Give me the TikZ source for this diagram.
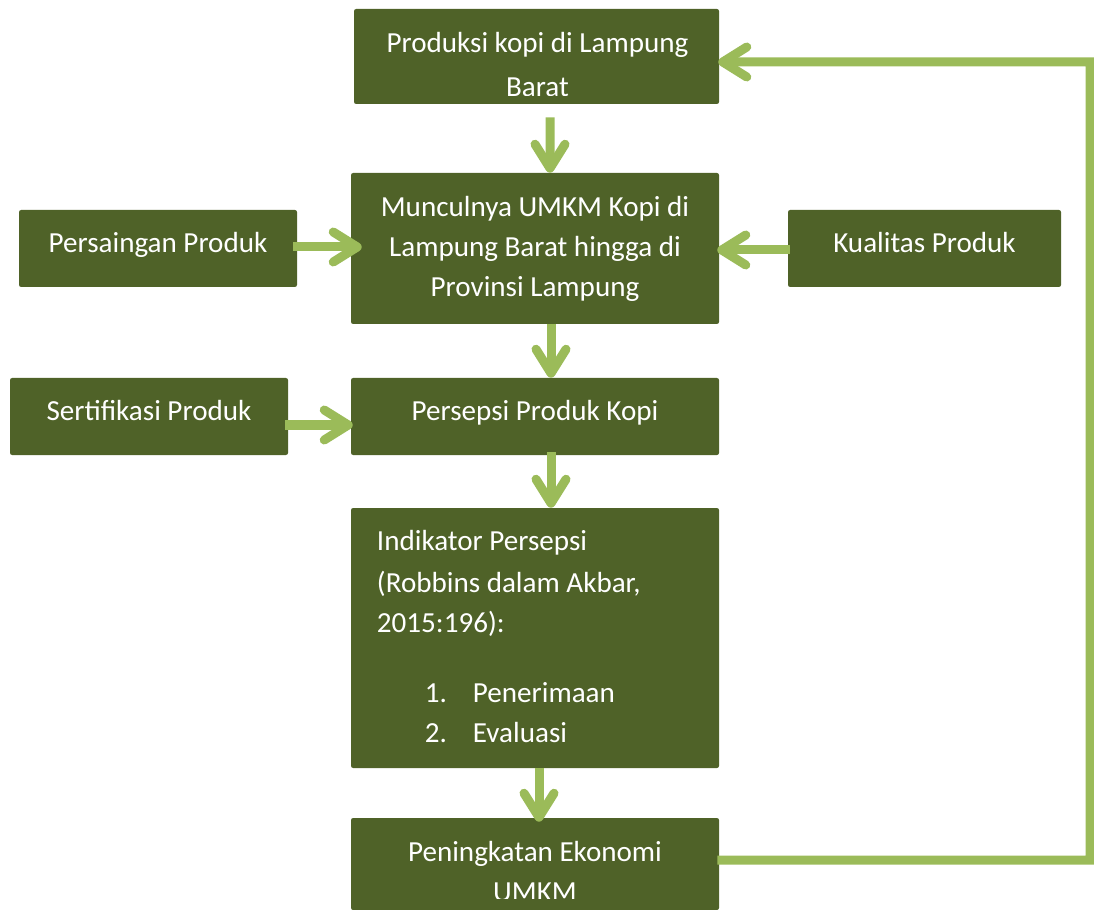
\documentclass[tikz,border=0pt]{standalone}
\usepackage{fontspec}
\setmainfont{Carlito}
\usetikzlibrary{arrows.meta}
\definecolor{hijautua}{RGB}{79,98,40}
\definecolor{hijaumuda}{RGB}{155,187,89}
\begin{document}
\begin{tikzpicture}[
	kotak/.style={fill=hijautua, rounded corners=1.5pt, inner sep=0pt},
	teks/.style={text=white, font=\fontsize{20.7}{28.45}\selectfont, align=center},
	satu/.style={text height=0.75em, text depth=0.15em},
	panah/.style={draw=hijaumuda, line width=0.225cm, -{Straight Barb[round, length=0.6cm, width=0.75cm]}}
]
	\useasboundingbox (0,0) rectangle (27.35,-22.75);

	\node[kotak, minimum width=9.125cm, minimum height=2.375cm] (prod) at (13.4125,-1.4125) {};
	\begin{scope}
		\clip (prod.north west) rectangle ([yshift=0.225cm]prod.south east);
		\node[teks, anchor=base] (prodteks) at (13.4375,-2.425) {Produksi kopi di Lampung\\[0.12cm]Barat};
	\end{scope}

	\node[kotak, teks, minimum width=9.2cm, minimum height=3.775cm] (muncul) at (13.375,-6.2125) {Munculnya UMKM Kopi di\\Lampung Barat hingga di\\Provinsi Lampung};
	\node[kotak, teks, satu, minimum width=6.95cm, minimum height=1.925cm] (saing) at (3.95,-6.2125) {Persaingan Produk};
	\node[kotak, teks, satu, minimum width=6.825cm, minimum height=1.925cm] (kual) at (23.1125,-6.2125) {Kualitas Produk};
	\node[kotak, teks, satu, minimum width=6.95cm, minimum height=1.925cm] (sertif) at (3.725,-10.4125) {Sertifikasi Produk};
	\node[kotak, teks, satu, minimum width=9.2cm, minimum height=1.925cm] (persep) at (13.375,-10.4125) {Persepsi Produk Kopi};

	\node[kotak, minimum width=9.2cm, minimum height=6.5cm] (indik) at (13.375,-15.95) {};
	\node[teks, align=left, anchor=base west] (indikteks) at (9.3,-18.55) {Indikator Persepsi\\[0.05cm](Robbins dalam Akbar,\\2015:196):\\[0.75cm]\hspace*{1.2cm}\makebox[1.2cm][l]{1.}Penerimaan\\\hspace*{1.2cm}\makebox[1.2cm][l]{2.}Evaluasi};

	\node[kotak, minimum width=9.2cm, minimum height=2.3cm] (naik) at (13.375,-21.6) {};
	\begin{scope}
		\clip (naik.north west) rectangle ([yshift=0.3cm]naik.south east);
		\node[teks, anchor=base] (naikteks) at (13.375,-22.525) {Peningkatan Ekonomi\\UMKM};
	\end{scope}

	\coordinate (balik) at (27.25,-1.55);

	\draw[panah] ([xshift=0.3375cm,yshift=-0.325cm]prod.south) -- ([xshift=0.375cm]muncul.north);
	\draw[panah] ([xshift=-0.1cm,yshift=0.0375cm]saing.east) -- ([xshift=0.275cm,yshift=0.0375cm]muncul.west);
	\draw[panah] ([xshift=0.05cm,yshift=-0.0375cm]kual.west) -- ([xshift=-0.05cm,yshift=-0.0375cm]muncul.east);
	\draw[panah] ([xshift=0.4cm]muncul.south) -- ([xshift=0.4cm]persep.north);
	\draw[panah] ([xshift=-0.075cm,yshift=-0.2125cm]sertif.east) -- ([xshift=0.05cm,yshift=-0.2125cm]persep.west);
	\draw[panah] ([xshift=0.4cm,yshift=0.075cm]persep.south) -- ([xshift=0.4cm]indik.north);
	\draw[panah] ([xshift=0.1cm]indik.south) -- ([xshift=0.1cm,yshift=-0.1cm]naik.north);
	\draw[panah] ([xshift=-0.05cm,yshift=0.1cm]naik.east) -| (balik) -- ([xshift=-0.025cm,yshift=-0.1375cm]prod.east);
\end{tikzpicture}
\end{document}
